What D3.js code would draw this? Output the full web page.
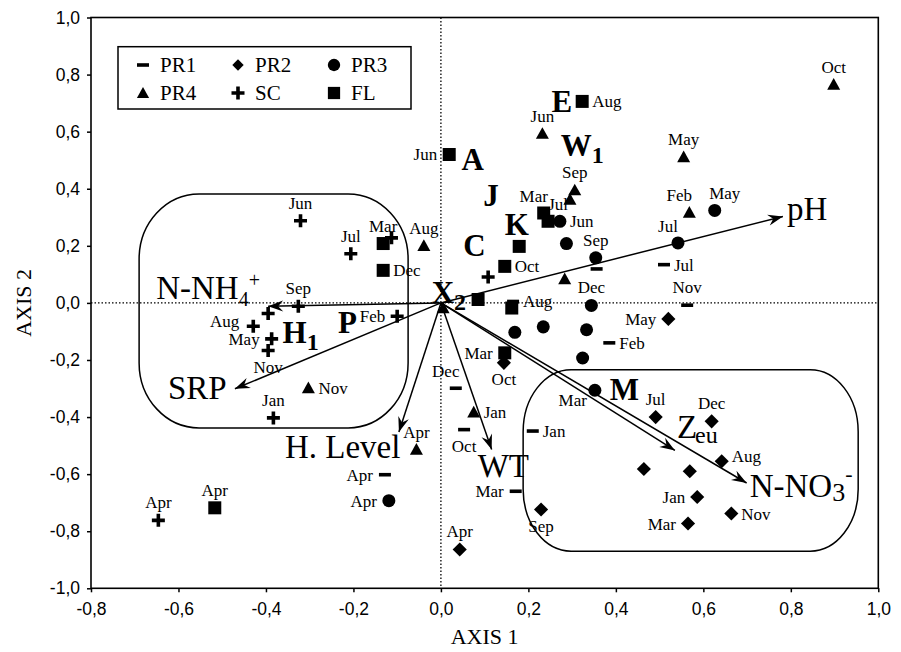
<!DOCTYPE html>
<html><head><meta charset="utf-8">
<script src="https://cdn.jsdelivr.net/npm/d3@7"></script>
<style>body{margin:0;background:#fff}svg{display:block}</style>
</head><body>
<svg id="c" width="901" height="652"></svg>
<script>
// ---------- DATA ----------
const xTicks = [-0.8,-0.6,-0.4,-0.2,0.0,0.2,0.4,0.6,0.8,1.0];
const yTicks = [-1.0,-0.8,-0.6,-0.4,-0.2,0.0,0.2,0.4,0.6,0.8,1.0];
const seriesNames = ["PR1","PR2","PR3","PR4","SC","FL"];

// m = month label, p = label side (t top, b bottom, l left, r right ...)
const PR1 = [
  {m:"Jul",x:0.510,y:0.134,p:"r"},{m:"Nov",x:0.563,y:-0.008,p:"t"},{m:"",x:0.356,y:0.119},
  {m:"Feb",x:0.385,y:-0.140,p:"r"},{m:"Dec",x:0.034,y:-0.299,p:"tl"},{m:"Oct",x:0.053,y:-0.444,p:"b"},
  {m:"Jan",x:0.210,y:-0.449,p:"r"},{m:"Mar",x:0.171,y:-0.660,p:"l"},{m:"Apr",x:-0.128,y:-0.602,p:"l"},
  {m:"Aug",x:0.165,y:0.005,p:"r"}
];
const PR2 = [
  {m:"May",x:0.520,y:-0.056,p:"l"},{m:"Jul",x:0.491,y:-0.400,p:"t"},{m:"Dec",x:0.619,y:-0.415,p:"t"},
  {m:"Aug",x:0.642,y:-0.555,p:"ru"},{m:"",x:0.464,y:-0.582},{m:"",x:0.569,y:-0.590},
  {m:"Jan",x:0.586,y:-0.680,p:"l"},{m:"Nov",x:0.664,y:-0.738,p:"r"},{m:"Mar",x:0.565,y:-0.773,p:"l"},
  {m:"Sep",x:0.229,y:-0.724,p:"b"},{m:"Apr",x:0.043,y:-0.864,p:"t"},{m:"Oct",x:0.144,y:-0.210,p:"b"}
];
const PR3 = [
  {m:"May",x:0.626,y:0.324,p:"tr"},{m:"Jul",x:0.542,y:0.210,p:"tl"},{m:"Sep",x:0.354,y:0.158,p:"t"},
  {m:"Jun",x:0.272,y:0.286,p:"r"},{m:"",x:0.287,y:0.208},{m:"Dec",x:0.344,y:-0.009,p:"t"},
  {m:"",x:0.169,y:-0.103},{m:"",x:0.234,y:-0.084},{m:"",x:0.333,y:-0.094},{m:"",x:0.324,y:-0.193},
  {m:"Mar",x:0.352,y:-0.306,p:"bl"},{m:"Apr",x:-0.119,y:-0.693,p:"l"}
];
const PR4 = [
  {m:"Oct",x:0.898,y:0.765,p:"t"},{m:"May",x:0.555,y:0.511,p:"t"},{m:"Feb",x:0.568,y:0.317,p:"tl"},
  {m:"Jun",x:0.232,y:0.593,p:"t"},{m:"Sep",x:0.306,y:0.395,p:"t"},{m:"",x:0.295,y:0.362},
  {m:"Aug",x:-0.039,y:0.200,p:"t"},{m:"",x:0.283,y:0.084},{m:"",x:0.005,y:-0.018},
  {m:"Nov",x:-0.303,y:-0.298,p:"r"},{m:"Apr",x:-0.056,y:-0.514,p:"t"},{m:"Jan",x:0.075,y:-0.383,p:"r"}
];
const SC = [
  {m:"Jun",x:-0.321,y:0.288,p:"t"},{m:"Jul",x:-0.206,y:0.172,p:"t"},{m:"",x:-0.113,y:0.228},
  {m:"Sep",x:-0.326,y:-0.012,p:"t"},{m:"Aug",x:-0.429,y:-0.082,p:"lu"},{m:"May",x:-0.387,y:-0.126,p:"l"},
  {m:"Nov",x:-0.395,y:-0.167,p:"b"},{m:"",x:-0.395,y:-0.037},{m:"Feb",x:-0.100,y:-0.047,p:"l"},
  {m:"Jan",x:-0.383,y:-0.403,p:"t"},{m:"Apr",x:-0.646,y:-0.762,p:"t"},{m:"",x:0.108,y:0.091}
];
const FL = [
  {m:"Mar",x:-0.132,y:0.208,p:"t"},{m:"Dec",x:-0.132,y:0.114,p:"r"},{m:"Jun",x:0.019,y:0.520,p:"l"},
  {m:"Aug",x:0.323,y:0.706,p:"r"},{m:"Mar",x:0.235,y:0.315,p:"tl"},{m:"Jul",x:0.245,y:0.286,p:"tr"},
  {m:"",x:0.179,y:0.198},{m:"Oct",x:0.146,y:0.128,p:"r"},{m:"",x:0.085,y:0.012},
  {m:"",x:0.162,y:-0.018},{m:"Mar",x:0.146,y:-0.175,p:"l"},{m:"Apr",x:-0.517,y:-0.718,p:"t"}
];

// environmental vectors (tips)
const vectorNames = ["pH","N-NH4","SRP","H. Level","WT","Zeu","N-NO3"];
const vectorX = [0.782,-0.395,-0.471,-0.096,0.116,0.535,0.699];
const vectorY = [0.303,-0.012,-0.301,-0.452,-0.514,-0.517,-0.631];

// bold taxa labels
const taxaNames = ["E","W","A","J","K","C","X","P","H","M"];
const taxaSub   = ["", "1","", "", "", "", "2","", "1",""];
const taxaX = [0.253,0.274,0.047,0.097,0.146,0.051,-0.021,-0.235,-0.362,0.386];
const taxaY = [0.668,0.514,0.467,0.338,0.239,0.163,0.000,-0.105,-0.140,-0.339];

// grouping outlines [x0,x1,y0,y1]
const groupLeft  = [-0.690,-0.075,-0.438,0.382];
const groupRight = [0.188,0.954,-0.870,-0.234];

// ---------- DRAW ----------
const svg = d3.select("#c");
const x = d3.scaleLinear().domain([-0.8,1.0]).range([91,878.3]);
const y = d3.scaleLinear().domain([-1.0,1.0]).range([588.3,17.5]);
const fmt = v => d3.format(".1f")(v).replace(".",",").replace("−","-");
const SERIF = "'Liberation Serif','Times New Roman',serif";
const SANS = "'Liberation Sans',Arial,sans-serif";

// symbols
const symDash = {draw(c,s){const w=Math.sqrt(s),h=3.6;c.rect(-w/2,-h/2,w,h);}};
const symDiamond = {draw(c,s){const r=Math.sqrt(s)/2;c.moveTo(0,-r);c.lineTo(r,0);c.lineTo(0,r);c.lineTo(-r,0);c.closePath();}};
const symPlus = {draw(c,s){const r=Math.sqrt(s)/2,t=1.8;
  c.moveTo(-r,-t);c.lineTo(-t,-t);c.lineTo(-t,-r);c.lineTo(t,-r);c.lineTo(t,-t);c.lineTo(r,-t);
  c.lineTo(r,t);c.lineTo(t,t);c.lineTo(t,r);c.lineTo(-t,r);c.lineTo(-t,t);c.lineTo(-r,t);c.closePath();}};
const symTri = {draw(c,s){const r=Math.sqrt(s)/2;c.moveTo(0,-r*1.0);c.lineTo(r,r*0.8);c.lineTo(-r,r*0.8);c.closePath();}};
const series = [
  {name:"PR1",data:PR1,type:symDash,size:144},
  {name:"PR2",data:PR2,type:symDiamond,size:200},
  {name:"PR3",data:PR3,type:d3.symbolCircle,size:133},
  {name:"PR4",data:PR4,type:symTri,size:169},
  {name:"SC",data:SC,type:symPlus,size:169},
  {name:"FL",data:FL,type:d3.symbolSquare,size:169}
];

// group outlines
function box(b, rx, ry){
  svg.append("rect").attr("x",x(b[0])).attr("y",y(b[3]))
    .attr("width",x(b[1])-x(b[0])).attr("height",y(b[2])-y(b[3]))
    .attr("rx",rx).attr("ry",ry).attr("fill","none").attr("stroke","#000").attr("stroke-width",1.5);
}
box(groupLeft,60,65);
box(groupRight,48,62);

// zero lines
svg.append("line").attr("x1",x(0)).attr("x2",x(0)).attr("y1",y(1)).attr("y2",y(-1))
  .attr("stroke","#000").attr("stroke-width",1.3).attr("stroke-dasharray","1.5,2");
svg.append("line").attr("x1",x(-0.8)).attr("x2",x(1)).attr("y1",y(0)).attr("y2",y(0))
  .attr("stroke","#000").attr("stroke-width",1.3).attr("stroke-dasharray","1.5,2");

// arrow marker
svg.append("defs").append("marker").attr("id","ah").attr("markerUnits","userSpaceOnUse")
  .attr("viewBox","-16 -7 18 14").attr("refX",0).attr("refY",0)
  .attr("markerWidth",18).attr("markerHeight",14).attr("orient","auto")
  .append("path").attr("d","M0,0 L-15,-5.5 L-10,0 L-15,5.5 Z").attr("fill","#000");

// vectors
const vg = svg.append("g");
vectorNames.forEach((n,i)=>{
  vg.append("line").attr("x1",x(0)).attr("y1",y(0)).attr("x2",x(vectorX[i])).attr("y2",y(vectorY[i]))
    .attr("stroke","#000").attr("stroke-width",1.5).attr("marker-end","url(#ah)");
});
const vOff = {"pH":[4,4],"N-NH4":[-112,-7],"SRP":[-67,10],"H. Level":[-114,26],"WT":[-14,27],"Zeu":[2,-12],"N-NO3":[3,14]};
vectorNames.forEach((n,i)=>{
  const t = vg.append("text").attr("x",x(vectorX[i])+vOff[n][0]).attr("y",y(vectorY[i])+vOff[n][1])
    .attr("font-family",SERIF).attr("font-size",33).attr("fill","#000");
  if(n==="N-NH4"){
    t.append("tspan").text("N-NH");
    t.append("tspan").attr("font-size",20).attr("dy",7).text("4");
    t.append("tspan").attr("font-size",20).attr("dy",-19).text("+");
  } else if(n==="N-NO3"){
    t.append("tspan").text("N-NO");
    t.append("tspan").attr("font-size",26).attr("dy",4).text("3");
    t.append("tspan").attr("font-size",22).attr("dy",-20).text("-");
  } else if(n==="Zeu"){
    t.append("tspan").text("Z");
    t.append("tspan").attr("font-size",24).attr("dy",5).attr("dx",-2).text("eu");
  } else t.text(n);
});

// points
const pg = svg.append("g");
const lp = {t:[0,-12,"middle"],b:[0,22,"middle"],l:[-12,6,"end"],lu:[-14,1,"end"],r:[10,6,"start"],ru:[10,1,"start"],
            tl:[-10,-11,"middle"],tr:[10,-11,"middle"],bl:[-8,16,"end"]};
series.forEach(s=>{
  const sym = d3.symbol().type(s.type).size(s.size);
  pg.selectAll(null).data(s.data).join("path")
    .attr("d",sym).attr("transform",d=>`translate(${x(d.x)},${y(d.y)})`).attr("fill","#000");
  pg.selectAll(null).data(s.data.filter(d=>d.m)).join("text")
    .attr("x",d=>x(d.x)+lp[d.p][0]).attr("y",d=>y(d.y)+lp[d.p][1])
    .attr("text-anchor",d=>lp[d.p][2])
    .attr("font-family",SERIF).attr("font-size",17).attr("fill","#000").text(d=>d.m);
});

// taxa labels
taxaNames.forEach((n,i)=>{
  const t = svg.append("text").attr("x",x(taxaX[i])).attr("y",y(taxaY[i]))
    .attr("font-family",SERIF).attr("font-weight","bold").attr("font-size",31).attr("fill","#000");
  t.append("tspan").text(n);
  if(taxaSub[i]) t.append("tspan").attr("font-size",24).attr("dy",7).text(taxaSub[i]);
});

// legend
const lg = svg.append("g");
lg.append("rect").attr("x",118).attr("y",46.7).attr("width",293).attr("height",62.3)
  .attr("fill","#fff").attr("stroke","#000").attr("stroke-width",1.5);
const legCols = [143,238,334], legRows = [65,93];
series.forEach((s,i)=>{
  const cx = legCols[i%3], cy = legRows[Math.floor(i/3)];
  const sz = {PR1:144,PR2:130,PR3:120,PR4:150,SC:169,FL:150}[s.name];
  lg.append("path").attr("d",d3.symbol().type(s.type).size(sz)()).attr("transform",`translate(${cx},${cy})`).attr("fill","#000");
  lg.append("text").attr("x",cx+17).attr("y",cy+7).attr("font-family",SERIF).attr("font-size",21).text(seriesNames[i]);
});

// frame
svg.append("rect").attr("x",x(-0.8)).attr("y",y(1)).attr("width",x(1)-x(-0.8)).attr("height",y(-1)-y(1))
  .attr("fill","none").attr("stroke","#000").attr("stroke-width",1.6);

// axes
const ax = svg.append("g").attr("transform",`translate(0,${y(-1)})`)
  .call(d3.axisBottom(x).tickValues(xTicks).tickFormat(fmt).tickSize(4).tickSizeOuter(0).tickPadding(10));
const ay = svg.append("g").attr("transform",`translate(${x(-0.8)},0)`)
  .call(d3.axisLeft(y).tickValues(yTicks).tickFormat(fmt).tickSize(4).tickSizeOuter(0).tickPadding(7));
[ax,ay].forEach(a=>{
  a.select(".domain").remove();
  a.selectAll(".tick line").attr("stroke","#000").attr("stroke-width",1.5);
  a.selectAll("text").attr("font-family",SANS).attr("font-size",17.5).attr("fill","#000");
});

svg.append("text").attr("x",(x(-0.8)+x(1))/2).attr("y",644).attr("text-anchor","middle")
  .attr("font-family",SERIF).attr("font-size",22).text("AXIS 1");
svg.append("text").attr("transform",`translate(31,${(y(-1)+y(1))/2}) rotate(-90)`).attr("text-anchor","middle")
  .attr("font-family",SERIF).attr("font-size",22).text("AXIS 2");
</script>
</body></html>
